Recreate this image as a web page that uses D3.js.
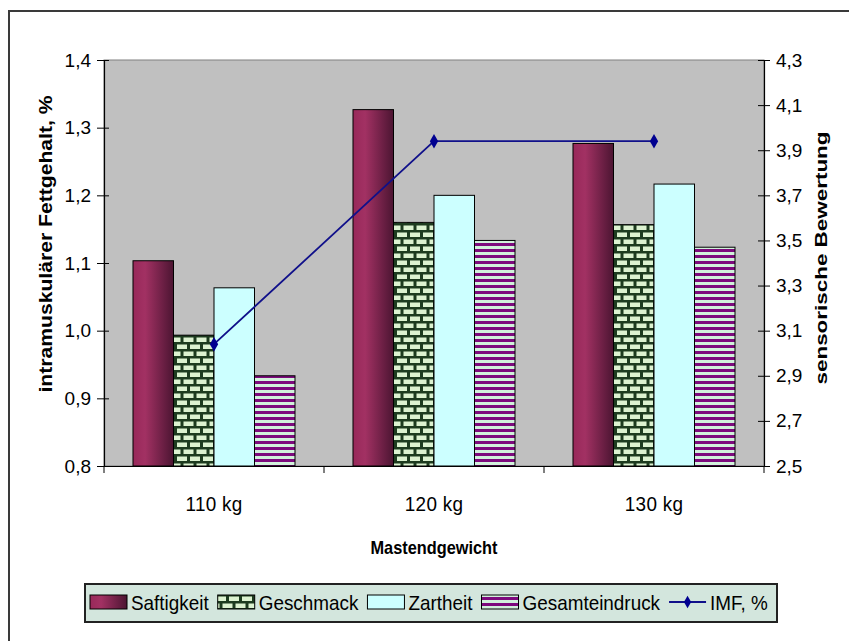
<!DOCTYPE html>
<html><head><meta charset="utf-8">
<script src="https://cdn.jsdelivr.net/npm/d3@7"></script>
<style>
html,body{margin:0;padding:0;background:#fff;}
text{font-family:"Liberation Sans",Arial,sans-serif;fill:#000;}
</style></head>
<body>
<svg id="chart" width="849" height="641"></svg>
<script>
const categories = ["110 kg", "120 kg", "130 kg"];
const seriesNames = ["Saftigkeit", "Geschmack", "Zartheit", "Gesamteindruck"];
const saftigkeit = [3.41, 4.08, 3.93];
const geschmack = [3.08, 3.58, 3.57];
const zartheit = [3.29, 3.70, 3.75];
const gesamteindruck = [2.90, 3.50, 3.47];
const imfName = "IMF, %";
const imf = [0.98, 1.28, 1.28];
const leftTicks = [0.8, 0.9, 1.0, 1.1, 1.2, 1.3, 1.4];
const rightTicks = [2.5, 2.7, 2.9, 3.1, 3.3, 3.5, 3.7, 3.9, 4.1, 4.3];
const xTitle = "Mastendgewicht";
const yLeftTitle = "intramuskulärer Fettgehalt, %";
const yRightTitle = "sensorische Bewertung";

const seriesValues = [saftigkeit, geschmack, zartheit, gesamteindruck];
const svg = d3.select("#chart");
const loc = d3.formatLocale({decimal: ",", thousands: ".", grouping: [3], currency: ["", "€"]});
const fmt = loc.format(".1f");

const L = 104, R = 764, T = 60, B = 466;

// defs: patterns/gradients
const defs = svg.append("defs");
const grad = defs.append("linearGradient").attr("id", "gSaft").attr("x1", 0).attr("x2", 1).attr("y1", 0).attr("y2", 0);
grad.append("stop").attr("offset", "0%").attr("stop-color", "#98295a");
grad.append("stop").attr("offset", "30%").attr("stop-color", "#a23163");
grad.append("stop").attr("offset", "100%").attr("stop-color", "#4c1532");

const brick = defs.append("pattern").attr("id", "pBrick").attr("patternUnits", "userSpaceOnUse")
  .attr("width", 13).attr("height", 14);
brick.append("rect").attr("width", 13).attr("height", 14).attr("fill", "#1d3b1f");
brick.append("rect").attr("x", 1.5).attr("y", 1.5).attr("width", 10).attr("height", 4.5).attr("fill", "#dcf2d0");
brick.append("rect").attr("x", -5).attr("y", 8.5).attr("width", 10).attr("height", 4.5).attr("fill", "#dcf2d0");
brick.append("rect").attr("x", 8).attr("y", 8.5).attr("width", 10).attr("height", 4.5).attr("fill", "#dcf2d0");

const stripe = defs.append("pattern").attr("id", "pStripe").attr("patternUnits", "userSpaceOnUse")
  .attr("width", 8).attr("height", 6);
stripe.append("rect").attr("width", 8).attr("height", 6).attr("fill", "#d2f2dc");
stripe.append("rect").attr("y", 3).attr("width", 8).attr("height", 3).attr("fill", "#7d0a7d");

const fills = ["url(#gSaft)", "url(#pBrick)", "#ccffff", "url(#pStripe)"];

// outer frame
svg.append("path").attr("d", `M9,641 V11 H849`).attr("fill", "none").attr("stroke", "#3a3a3a").attr("stroke-width", 2);

// scales
const x0 = d3.scaleBand().domain(categories).range([L, R]).paddingInner(0).paddingOuter(0);
const x1 = d3.scaleBand().domain(seriesNames).range([0, x0.bandwidth()]).paddingInner(0).paddingOuter(0.716);
const yL = d3.scaleLinear().domain([0.8, 1.4]).range([B, T]);
const yR = d3.scaleLinear().domain([2.5, 4.3]).range([B, T]);

// plot area
svg.append("rect").attr("x", L).attr("y", T).attr("width", R - L).attr("height", B - T)
  .attr("fill", "#c0c0c0").attr("stroke", "#808080").attr("stroke-width", 1);

// bars
const groups = svg.append("g").selectAll("g").data(categories).join("g")
  .attr("transform", d => `translate(${x0(d)},0)`);
groups.selectAll("rect").data((c, ci) => seriesNames.map((s, si) => ({s, si, v: seriesValues[si][ci]})))
  .join("rect")
  .attr("x", d => x1(d.s)).attr("width", x1.bandwidth())
  .attr("y", d => yR(d.v)).attr("height", d => B - yR(d.v))
  .attr("fill", d => fills[d.si]).attr("stroke", "#000").attr("stroke-width", 1);

// axes
const axL = d3.axisLeft(yL).tickValues(leftTicks).tickFormat(fmt).tickSizeInner(6).tickSizeOuter(0).tickPadding(7);
const gL = svg.append("g").attr("transform", `translate(${L},0)`).call(axL);
gL.selectAll(".tick line").attr("x2", -7).attr("x1", 5);
const axR = d3.axisRight(yR).tickValues(rightTicks).tickFormat(fmt).tickSizeInner(6).tickSizeOuter(0).tickPadding(6);
const gR = svg.append("g").attr("transform", `translate(${R},0)`).call(axR);
gR.selectAll(".tick line").attr("x1", -6).attr("x2", 6);
const axB = d3.axisBottom(x0).tickSize(0).tickPadding(28);
const gB = svg.append("g").attr("transform", `translate(0,${B})`).call(axB);
[gL, gR, gB].forEach(g => {
  g.select(".domain").attr("stroke", "#000").attr("stroke-width", 1.2);
  g.selectAll(".tick line").attr("stroke", "#000");
  g.selectAll("text").attr("font-size", 19).attr("font-family", "'Liberation Sans',Arial,sans-serif").attr("fill", "#111");
});
gB.selectAll("text").attr("letter-spacing", 0.3).attr("font-size", 21)
  .attr("transform", "scale(0.9,1)").attr("x", function() { return 0; });
gB.selectAll(".tick").each(function() {
  d3.select(this).select("text").attr("y", 30).attr("dy", "0.71em");
});

// category boundary ticks
svg.append("g").selectAll("line").data(categories).join("line")
  .attr("x1", d => x0(d) + x0.bandwidth()).attr("x2", d => x0(d) + x0.bandwidth())
  .attr("y1", B).attr("y2", B + 7).attr("stroke", "#000");
svg.append("line").attr("x1", L).attr("x2", L).attr("y1", B).attr("y2", B + 7).attr("stroke", "#000");

// IMF line
const line = d3.line().x((d, i) => x0(categories[i]) + x0.bandwidth() / 2).y(d => yL(d));
svg.append("path").datum(imf).attr("d", line).attr("fill", "none").attr("stroke", "#10108a").attr("stroke-width", 1.8);
const diamond = d3.symbol().type(d3.symbolDiamond).size(60);
svg.append("g").selectAll("path").data(imf).join("path")
  .attr("d", diamond)
  .attr("transform", (d, i) => `translate(${x0(categories[i]) + x0.bandwidth() / 2},${yL(d)})`)
  .attr("fill", "#000090");

// titles
svg.append("text").attr("x", (L + R) / 2).attr("y", 554).attr("text-anchor", "middle")
  .attr("font-size", 19).attr("font-weight", "bold").attr("textLength", 127).attr("lengthAdjust", "spacingAndGlyphs")
  .text(xTitle);
svg.append("text").attr("transform", "translate(52,244) rotate(-90)").attr("text-anchor", "middle")
  .attr("font-size", 18).attr("font-weight", "bold").attr("textLength", 297).attr("lengthAdjust", "spacingAndGlyphs")
  .text(yLeftTitle);
svg.append("text").attr("transform", "translate(827,258) rotate(-90)").attr("text-anchor", "middle")
  .attr("font-size", 17).attr("font-weight", "bold").attr("textLength", 253).attr("lengthAdjust", "spacingAndGlyphs")
  .text(yRightTitle);

// legend
const lg = svg.append("g");
lg.append("rect").attr("x", 85).attr("y", 584).attr("width", 692).attr("height", 38)
  .attr("fill", "#d3e6dd").attr("stroke", "#222").attr("stroke-width", 2);
let lx = 90;
const ly = 602;
const sx = 0.9;
const items = seriesNames.map((s, i) => ({name: s, fill: fills[i], type: "bar"})).concat([{name: imfName, type: "line"}]);
items.forEach((it, i) => {
  const g = lg.append("g");
  if (it.type === "bar") {
    g.append("rect").attr("x", lx).attr("y", ly - 7).attr("width", 37).attr("height", 14)
      .attr("fill", it.fill).attr("stroke", "#000").attr("stroke-width", 1);
  } else {
    g.append("line").attr("x1", lx).attr("x2", lx + 37).attr("y1", ly).attr("y2", ly).attr("stroke", "#10108a").attr("stroke-width", 2);
    g.append("path").attr("d", d3.symbol().type(d3.symbolDiamond).size(45)).attr("transform", `translate(${lx + 18.5},${ly})`).attr("fill", "#000090");
  }
  const t = g.append("text").attr("transform", `translate(${lx + 41},${ly + 8}) scale(${sx},1)`)
    .attr("font-size", 21).text(it.name);
  lx = lx + 41 + t.node().getComputedTextLength() * sx + 9;
});
</script>
</body></html>
